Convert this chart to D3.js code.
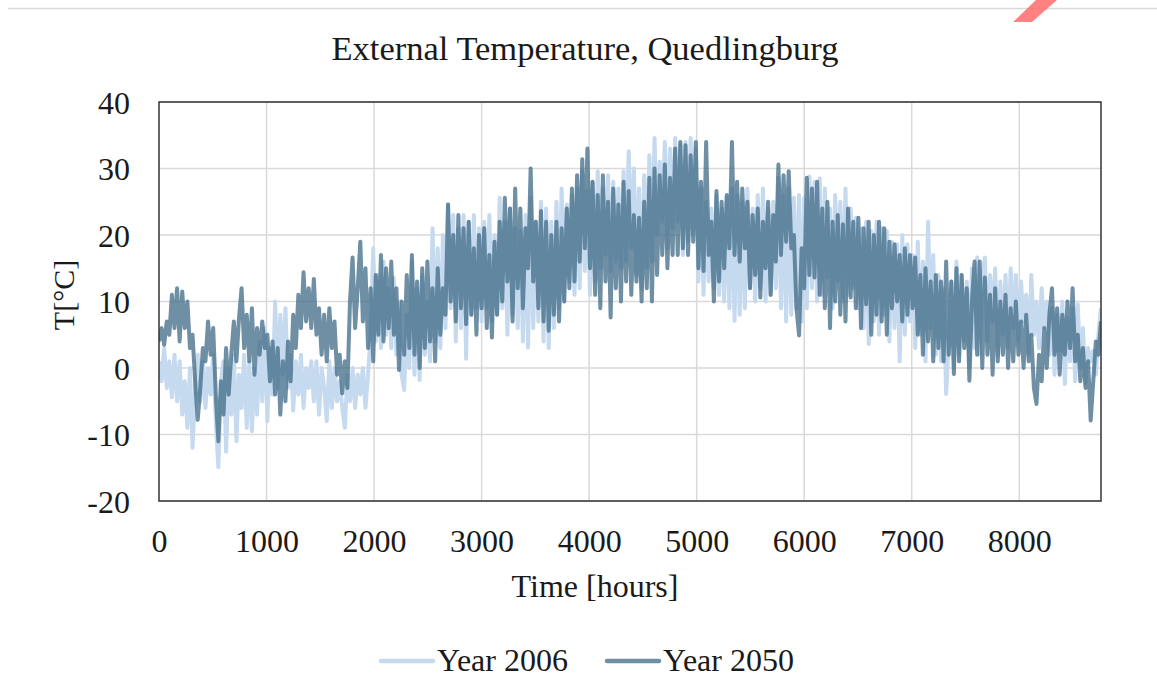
<!DOCTYPE html>
<html>
<head>
<meta charset="utf-8">
<script src="https://cdn.jsdelivr.net/npm/d3@7"></script>
<style>
  body { margin: 0; background: #fff; }
  svg { display: block; }
  text { font-family: "Liberation Serif", "Times New Roman", serif; fill: #1a1a1a; }
</style>
</head>
<body>
<svg id="chart" width="1157" height="697"></svg>
<script>
// Outdoor temperature (°C), one reading every STEP_HOURS hours through the year
const STEP_HOURS = 24;

const temp2006 = [
  1, -2, 3, -3, 1, -4.4, 2, -5, 1, -7,
  -2, -9, 0, -12, -3, 2, -5, 1, -6, 0,
  -4, 2, -8, -14.9, -2, 1, -12.6, 0, -7, 2,
  -11, -1, -6, 2, -9, 1, -9.5, 0, -7, 4,
  -5, 6, -8, 3, -4, 10, -3, 8, -1, 9,
  -3, 2, -6.4, 1, -4, 2, -6, 0, -3, 1,
  -5, 1, -7, 0, -3, -8, 1, -6, 0, -5,
  -2, -6, -9, -1, -5, 0, -6, -1, -4, 0,
  -6, -1, 5, 18, 4, 14, 3, 16, 5, 12,
  3, 13.6, 2, 10, -1, -3.3, 8, 0, 16, -1,
  12, -1.8, 14, 2, 10, 1, 21, 4, 18, 3,
  20, 6, 24.6, 9, 23, 4, 21, 6, 23, 1.4,
  22, 8, 23, 9, 21, 7, 22, 9, 23, 7,
  20, 8, 25.6, 9, 22, 5, 24, 8, 21, 6,
  20.6, 4, 23, 3.1, 25.6, 6, 22, 7, 25, 4,
  24, 3, 22, 6, 25, 9, 27, 10, 24.6, 13,
  26, 11, 27, 12, 29.6, 14.6, 26.6, 11, 28, 13,
  29.6, 15, 27, 17, 29, 14.6, 28, 16, 27, 15,
  29.6, 16, 32.6, 18, 30, 14, 27, 12, 29, 15,
  32, 16, 34.6, 20, 31, 22, 34, 18, 33, 21,
  34.6, 22, 33.6, 17, 34, 19, 34.6, 20, 33, 13,
  27, 11, 25, 13, 24, 12, 26, 11, 24, 10,
  25.6, 9, 27, 7.1, 26, 8, 25, 9, 27, 12,
  24, 10, 26, 12, 27, 10, 24, 11, 25, 12,
  28.6, 9, 26, 7, 27, 8, 25.6, 9, 26, 7,
  25.6, 9, 28.8, 12, 28, 10, 28.5, 11, 27, 13.6,
  24, 9, 26, 13, 25, 10, 27, 11, 24, 12,
  22.6, 9, 21, 6, 22, 3.6, 20.6, 7, 22, 5,
  21, 8, 20.6, 4, 19, 6, 18.6, 1, 20, 5,
  18.6, 7, 17, 3, 19, 5, 16, 1, 22, 6,
  17, 2, 14, 1, 12, -3.9, 4, 13, 0, 16,
  2, 14, 4, 13, 0, 15, 3, 16.6, 2, 14,
  16.6, 4, 14, 7, 15, 2, 13, 5, 14, 3,
  15, 6, 14, 4, 13, 7, 11, 2, 14, 5,
  10, 3, 12, 6, 10, 2, 9, -1, 8, 2.6,
  10, -2.4, 7.6, 1, 9, -2, 9.6, 0, 6, -2.3,
  3, 1, 2.6, -1, 5, 9
];

const temp2050 = [
  4, 6, 3.5, 7, 5, 11, 6, 12, 4, 11.5,
  6, 10, 3, 5, -2, -7.8, -3, 3, 1, 7,
  2, 6, -4, -11, -2, -7, 3, -4, 2, 7,
  1, 7.5, 12, 3, 8, 1, 9, -1, 6, 2,
  7, 3, 5, -2, 4, -4, 3, -7, 1, -5,
  4, -2, 8, 3, 11, 6, 14.4, 7, 12, 6,
  13.4, 5, 9, 2, 8, 1, 9, 3, 7, -1,
  2, -3.8, 1, -3, 10, 16.6, 6, 12, 19, 7,
  15, 3, 12, 1, 14, 5, 17, 4, 15, 6,
  16, 5, 12, -0.3, 10, 2, 14, 3, 17, 2,
  13, 0, 15, 3, 16, 4, 12, 1, 15, 5,
  12, 8, 24.6, 10, 20, 7, 23, 9, 21, 6.6,
  22, 8, 18, 5, 20, 9, 21, 6, 17, 4.6,
  19, 8, 22, 10, 25.6, 13, 24, 7, 27, 12,
  24, 9, 21, 15, 30, 13, 22, 9, 23.6, 7,
  22, 5.6, 20, 8, 22, 7, 21, 10, 24, 12,
  27, 13, 29, 16, 31.4, 18, 33, 15, 28, 11,
  26, 9, 29, 13, 25, 7.6, 27, 12, 24.6, 10,
  28, 13, 26.6, 11, 23, 13, 22.6, 10, 25, 12,
  28.6, 10, 30, 14, 29, 17, 30.6, 15, 28.6, 17,
  33, 17, 34, 18, 33.5, 17, 32, 19, 34, 15,
  28, 14.6, 34, 17, 22, 10, 26.6, 13, 25, 15,
  26, 18, 34, 17, 28, 16, 27, 18, 25, 12,
  23, 14, 24, 10.6, 22, 15, 25, 11, 23, 16,
  30.6, 17, 29, 19, 29.6, 18, 20, 9, 4.9, 18,
  12, 28.6, 14, 27, 13.6, 28, 11, 24, 9, 25,
  6, 22, 10, 23, 8, 21.6, 7, 24, 10.6, 22,
  9, 22.6, 6, 21, 9.6, 22, 5, 20, 8, 22,
  7, 21, 5, 19, 9, 18.6, 10, 17, 7, 18,
  8, 17, 9, 16.6, 5, 14, 2, 15, 4, 13,
  1, 14, 3, 13, 1, 16, 2, 13, -0.9, 15,
  1, 14, 3, 12, -1.9, 10, 16, 2, 16, 0,
  13.6, 2, 11, -1, 12, 1, 10, 2, 11, 0,
  9, 1, 10, 2, 7, 0, 8, 1, 5, -3,
  -5.4, 2, -2, 6, 0, 8, 12, 2, 9, -1,
  8, 2, 10, 3, 12, 1, 5, -2, 3, -3,
  1, -7.9, -2, 4, 2, 7
];

const seriesNames = ["Year 2006", "Year 2050"];
const xTickValues = [0, 1000, 2000, 3000, 4000, 5000, 6000, 7000, 8000];
const yTickValues = [-20, -10, 0, 10, 20, 30, 40];
const HOURS_IN_YEAR = 8760;

const svg = d3.select("#chart");
const W = 1157;
const plot = { left: 159, right: 1101, top: 102, bottom: 501 };

const colors = {
  light: "#c5d9ef",
  dark: "#3f6a85",
  grid: "#d9d9d9",
  frame: "#d9d9d9",
  axis: "#333333"
};

// Top edge of the chart frame
svg.append("line")
  .attr("x1", 8).attr("x2", W).attr("y1", 8.5).attr("y2", 8.5)
  .attr("stroke", colors.frame).attr("stroke-width", 1.5);

// Red corner mark at the top edge
svg.append("polygon")
  .attr("points", "1036,0 1057,0 1032,22 1013,22")
  .attr("fill", "#ff6b6b")
  .attr("opacity", 0.85);

const x = d3.scaleLinear().domain([0, HOURS_IN_YEAR]).range([plot.left, plot.right]);
const y = d3.scaleLinear().domain([-20, 40]).range([plot.bottom, plot.top]);

// Gridlines
const grid = svg.append("g").attr("class", "grid");
grid.selectAll("line.v").data(xTickValues.slice(1)).join("line")
  .attr("class", "v")
  .attr("x1", d => x(d)).attr("x2", d => x(d))
  .attr("y1", plot.top).attr("y2", plot.bottom)
  .attr("stroke", colors.grid).attr("stroke-width", 1.5);
grid.selectAll("line.h").data(yTickValues).join("line")
  .attr("class", "h")
  .attr("x1", plot.left).attr("x2", plot.right)
  .attr("y1", d => y(d)).attr("y2", d => y(d))
  .attr("stroke", colors.grid).attr("stroke-width", 1.5);

// Clip for the series
svg.append("clipPath").attr("id", "plot-clip")
  .append("rect")
  .attr("x", plot.left).attr("y", plot.top)
  .attr("width", plot.right - plot.left).attr("height", plot.bottom - plot.top);

const line = d3.line()
  .x((d, i) => x(i * STEP_HOURS))
  .y(d => y(d));

const series = svg.append("g").attr("clip-path", "url(#plot-clip)");
series.append("path")
  .datum(temp2006)
  .attr("d", line)
  .attr("fill", "none")
  .attr("stroke", colors.light)
  .attr("stroke-width", 4)
  .attr("stroke-linejoin", "round");
series.append("path")
  .datum(temp2050)
  .attr("d", line)
  .attr("fill", "none")
  .attr("stroke", colors.dark)
  .attr("stroke-opacity", 0.75)
  .attr("stroke-width", 4)
  .attr("stroke-linejoin", "round");

// Plot border
svg.append("rect")
  .attr("x", plot.left).attr("y", plot.top)
  .attr("width", plot.right - plot.left).attr("height", plot.bottom - plot.top)
  .attr("fill", "none").attr("stroke", colors.axis).attr("stroke-width", 1.5);

// Axes: labels only, no tick marks; plain hyphen for negatives
const fmt = d => String(d);
const xAxis = svg.append("g")
  .attr("transform", `translate(0,${plot.bottom})`)
  .call(d3.axisBottom(x).tickValues(xTickValues).tickSize(0).tickPadding(0).tickFormat(fmt));
xAxis.select(".domain").remove();
xAxis.selectAll("text")
  .attr("y", 51).attr("dy", null)
  .style("font-size", "32px").style("font-family", "'Liberation Serif', serif").attr("fill", "#1a1a1a");

const yAxis = svg.append("g")
  .attr("transform", `translate(${plot.left},0)`)
  .call(d3.axisLeft(y).tickValues(yTickValues).tickSize(0).tickPadding(0).tickFormat(fmt));
yAxis.select(".domain").remove();
yAxis.selectAll("text")
  .attr("x", -29).attr("dy", "0.35em")
  .style("font-size", "32px").style("font-family", "'Liberation Serif', serif").attr("fill", "#1a1a1a");

// Titles
svg.append("text")
  .attr("x", 585).attr("y", 60)
  .attr("text-anchor", "middle")
  .style("font-size", "34.5px")
  .text("External Temperature, Quedlingburg");

svg.append("text")
  .attr("x", 595).attr("y", 597)
  .attr("text-anchor", "middle")
  .style("font-size", "32px")
  .text("Time [hours]");

svg.append("text")
  .attr("transform", "translate(74,295) rotate(-90)")
  .attr("text-anchor", "middle")
  .style("font-size", "30px")
  .text("T[°C]");

// Legend
const legendItems = [
  { name: seriesNames[0], color: colors.light, opacity: 1, x: 381 },
  { name: seriesNames[1], color: colors.dark, opacity: 0.75, x: 607 }
];
const legend = svg.append("g");
legendItems.forEach(item => {
  legend.append("line")
    .attr("x1", item.x).attr("x2", item.x + 52)
    .attr("y1", 661).attr("y2", 661)
    .attr("stroke", item.color).attr("stroke-opacity", item.opacity)
    .attr("stroke-width", 4.5).attr("stroke-linecap", "round");
  legend.append("text")
    .attr("x", item.x + 56).attr("y", 671)
    .style("font-size", "32px")
    .text(item.name);
});
</script>
</body>
</html>
